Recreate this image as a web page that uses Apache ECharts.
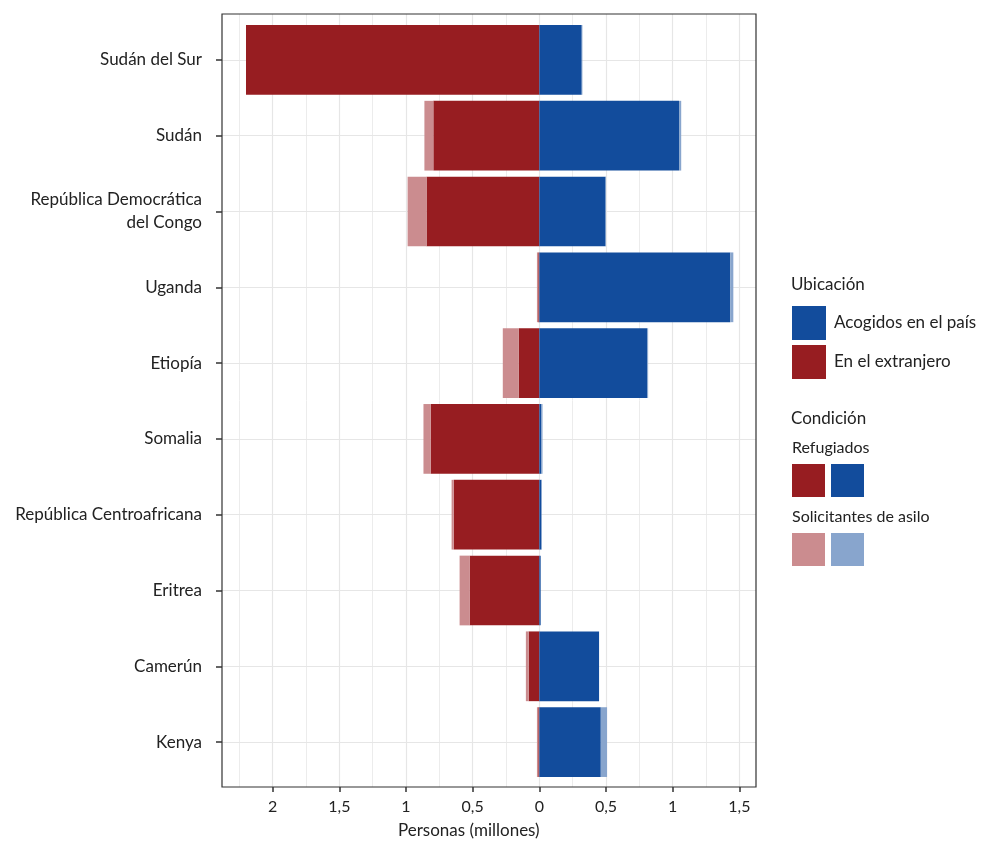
<!DOCTYPE html>
<html><head><meta charset="utf-8">
<script src="https://cdn.jsdelivr.net/npm/echarts@6/dist/echarts.min.js"></script>
<style>html,body{margin:0;padding:0;background:#fff}#c{width:983px;height:844px}</style>
</head><body><div id="c"></div>
<script>
const categories = ['Sudán del Sur','Sudán','República Democrática\ndel Congo','Uganda','Etiopía','Somalia','República Centroafricana','Eritrea','Camerún','Kenya'];
// millions of people
const abroadRefugees = [2.200,0.795,0.846,0.008,0.155,0.815,0.642,0.523,0.080,0.008];
const abroadAsylum   = [0.000,0.067,0.142,0.010,0.119,0.054,0.016,0.075,0.021,0.010];
const hostedRefugees = [0.318,1.048,0.497,1.432,0.808,0.016,0.016,0.010,0.448,0.461];
const hostedAsylum   = [0.005,0.016,0.003,0.023,0.008,0.008,0.002,0.000,0.000,0.047];
const xTicks = [-2,-1.5,-1,-0.5,0,0.5,1,1.5];
const xMinor = [-2.25,-1.75,-1.25,-0.75,-0.25,0.25,0.75,1.25];

const RED='#971D21', BLUE='#124C9C', LRED='#CB8C8F', LBLUE='#88A5CD';
const FONT='Lato, "Noto Sans", sans-serif';
const fmt = v => String(Math.abs(Math.round(v*100)/100)).replace('.', ',');

const chart = echarts.init(document.getElementById('c'));
const frame = {left:222, right:227, top:14, bottom:57};

chart.setOption({
  animation:false,
  textStyle:{fontFamily:FONT},
  grid:[
    {left:frame.left, right:frame.right, top:frame.top, bottom:frame.bottom, show:true, borderColor:'#333', borderWidth:1.2, backgroundColor:'transparent', z:3},
    {left:frame.left, right:frame.right, top:22, bottom:64}
  ],
  xAxis:[
    {gridIndex:0, type:'value', min:-2.38, max:1.625,
     axisLine:{show:false}, splitLine:{show:false},
     axisTick:{show:true, length:5, lineStyle:{color:'#333', width:1.5}, customValues:xTicks},
     axisLabel:{margin:12, fontSize:16, color:'#222', fontFamily:FONT, customValues:xTicks, formatter:fmt}},
    {gridIndex:1, type:'value', min:-2.38, max:1.625, show:false}
  ],
  yAxis:[
    {gridIndex:0, type:'value', min:0, max:1, show:false},
    {gridIndex:1, type:'category', inverse:true, data:categories, position:'left',
     axisLine:{show:false, onZero:false}, splitLine:{show:false},
     axisTick:{show:true, alignWithLabel:true, length:6, lineStyle:{color:'#333', width:1.5}},
     axisLabel:{margin:20, fontSize:17, color:'#222', fontFamily:FONT, lineHeight:23, align:'right'}}
  ],
  legend:{
    data:['Acogidos en el país','En el extranjero'],
    orient:'vertical', left:792, top:306, padding:0, itemWidth:34, itemHeight:34, itemGap:5,
    icon:'rect', selectedMode:false,
    textStyle:{fontSize:17, color:'#222', fontFamily:FONT, padding:[0,0,0,3]}
  },
  graphic:[
    {type:'text', left:791, top:276, style:{text:'Ubicación', fontSize:17, fill:'#222', fontFamily:FONT}},
    {type:'text', left:791, top:410, style:{text:'Condición', fontSize:17, fill:'#222', fontFamily:FONT}},
    {type:'text', left:792, top:440, style:{text:'Refugiados', fontSize:16, fill:'#222', fontFamily:FONT}},
    {type:'rect', shape:{x:792, y:464, width:33, height:33}, style:{fill:RED}},
    {type:'rect', shape:{x:831, y:464, width:33, height:33}, style:{fill:BLUE}},
    {type:'text', left:792, top:509, style:{text:'Solicitantes de asilo', fontSize:16, fill:'#222', fontFamily:FONT}},
    {type:'rect', shape:{x:792, y:533, width:33, height:33}, style:{fill:LRED}},
    {type:'rect', shape:{x:831, y:533, width:33, height:33}, style:{fill:LBLUE}},
    {type:'text', left:398, top:822, style:{text:'Personas (millones)', fontSize:17, fill:'#222', fontFamily:FONT}}
  ],
  series:[
    {type:'line', name:'gridV', xAxisIndex:0, yAxisIndex:0, data:[[0,-1]], symbol:'none', z:1,
     markLine:{silent:true, z:1, symbol:['none','none'], label:{show:false},
       data:[...xMinor.map(v=>({xAxis:v, lineStyle:{color:'#ececec', width:1, type:'solid'}})),
             ...xTicks.map(v=>({xAxis:v, lineStyle:{color:'#e6e6e6', width:1.2, type:'solid'}}))]}},
    {type:'line', name:'gridH', xAxisIndex:1, yAxisIndex:1, data:[], symbol:'none', z:1,
     markLine:{silent:true, z:1, symbol:['none','none'], label:{show:false},
       lineStyle:{color:'#e6e6e6', width:1.2, type:'solid'},
       data:categories.map(c=>({yAxis:c}))}},
    {type:'bar', name:'En el extranjero', xAxisIndex:1, yAxisIndex:1, stack:'s', barCategoryGap:'8%', z:2,
     itemStyle:{color:RED}, data:abroadRefugees.map(v=>-v)},
    {type:'bar', name:'Asilo extranjero', xAxisIndex:1, yAxisIndex:1, stack:'s', z:2,
     itemStyle:{color:LRED}, data:abroadAsylum.map(v=>-v)},
    {type:'bar', name:'Acogidos en el país', xAxisIndex:1, yAxisIndex:1, stack:'s', z:2,
     itemStyle:{color:BLUE}, data:hostedRefugees},
    {type:'bar', name:'Asilo país', xAxisIndex:1, yAxisIndex:1, stack:'s', z:2,
     itemStyle:{color:LBLUE}, data:hostedAsylum}
  ]
});
</script></body></html>
